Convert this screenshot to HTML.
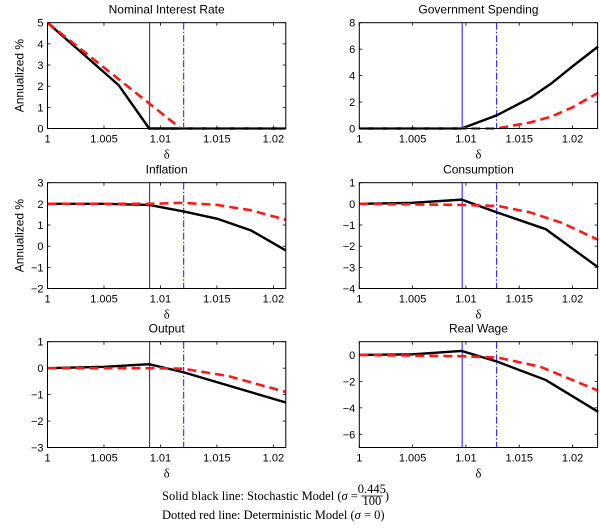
<!DOCTYPE html>
<html><head><meta charset="utf-8"><style>
body{margin:0;background:#fff;width:600px;height:529px;overflow:hidden}
svg{display:block}
.t{font-family:"Liberation Sans",sans-serif;font-size:11px;fill:#000}
.ti{font-family:"Liberation Sans",sans-serif;font-size:12px;fill:#000}
.s{font-family:"Liberation Serif",serif;font-size:12.5px;fill:#000}
</style></head><body>
<svg id="c" width="600" height="529" xmlns="http://www.w3.org/2000/svg">
<text id="cap1" class="s" x="162" y="500">Solid black line: Stochastic Model (<tspan font-style="italic">σ</tspan> =</text>
<text class="s" x="162" y="519">Dotted red line: Deterministic Model (<tspan font-style="italic">σ</tspan> = 0)</text>
</svg>
<script>
const xTicks=[1,1.005,1.01,1.015,1.02];
const xTickLabels=["1","1.005","1.01","1.015","1.02"];
const titles=["Nominal Interest Rate","Government Spending","Inflation","Consumption","Output","Real Wage"];
const yTicks=[[0,1,2,3,4,5],[0,2,4,6,8],[-2,-1,0,1,2,3],[-4,-3,-2,-1,0,1],[-3,-2,-1,0,1],[-6,-4,-2,0]];
const yRanges=[[0,5],[0,8],[-2,3],[-4,1],[-3,1],[-7,1]];
const blackX=[[1,1.0063,1.009,1.0211],[1,1.0096,1.0129,1.016,1.018,1.02,1.0224],[1,1.005,1.009,1.012,1.015,1.018,1.0211],[1,1.005,1.0096,1.0129,1.0175,1.0224],[1,1.005,1.009,1.012,1.0211],[1,1.005,1.0096,1.0129,1.0175,1.0224]];
const blackY=[[5,2.05,0,0],[0,0,1.0,2.3,3.4,4.7,6.2],[2,2,1.95,1.65,1.3,0.75,-0.2],[0,0.05,0.2,-0.4,-1.2,-3.0],[0,0.05,0.15,-0.15,-1.3],[0,0.05,0.3,-0.5,-1.9,-4.3]];
const redX=[[1,1.0118,1.0211],[1,1.0129,1.016,1.018,1.02,1.0224],[1,1.009,1.012,1.015,1.018,1.0211],[1,1.0096,1.013,1.016,1.019,1.0224],[1,1.009,1.012,1.016,1.0211],[1,1.0096,1.013,1.017,1.0224]];
const redY=[[5,0,0],[0,0,0.45,0.9,1.6,2.7],[2,2,2.05,1.95,1.7,1.25],[0,-0.05,-0.1,-0.4,-0.9,-1.7],[0,0,-0.02,-0.3,-0.9],[0,-0.1,-0.2,-0.9,-2.7]];
const vSolid=[1.00904,1.00965];
const vDash=[1.01206,1.01288];
const xMax=[1.0211,1.02235];
const NS="http://www.w3.org/2000/svg";
const svg=document.getElementById('c');
function mk(tag,attrs,parent){const e=document.createElementNS(NS,tag);for(const k in attrs)e.setAttribute(k,attrs[k]);(parent||svg).appendChild(e);return e;}
const panelTops=[22.7,182.7,341.7];
const panelH=105.8;
const lefts=[47.5,359.3];
const W=238.3;
const slugs=["nominal-interest-rate","government-spending","inflation","consumption","output","real-wage"];
for(let i=0;i<6;i++){
  const col=i%2,row=Math.floor(i/2);
  const L=lefts[col],T=panelTops[row],B=T+panelH,R=L+W;
  const xs=v=>L+(v-1)/(xMax[col]-1)*W;
  const ys=v=>B-(v-yRanges[i][0])/(yRanges[i][1]-yRanges[i][0])*panelH;
  const g=mk('g',{});
  
  
  const tt=mk('text',{x:(L+R)/2,y:T-9,'text-anchor':'middle',class:'ti'},g);tt.textContent=titles[i];
  
  
  xTicks.forEach((v,k)=>{
    const x=xs(v);
    mk('line',{x1:x,x2:x,y1:B,y2:B-3,stroke:'#000','stroke-width':0.8},g);
    mk('line',{x1:x,x2:x,y1:T,y2:T+3,stroke:'#000','stroke-width':0.8},g);
    const t=mk('text',{x:x,y:B+14,'text-anchor':'middle',class:'t'},g);t.textContent=xTickLabels[k];
    
    
  });
  yTicks[i].forEach(v=>{
    const y=ys(v);
    mk('line',{x1:L,x2:L+3,y1:y,y2:y,stroke:'#000','stroke-width':0.8},g);
    mk('line',{x1:R,x2:R-3,y1:y,y2:y,stroke:'#000','stroke-width':0.8},g);
    const t=mk('text',{x:L-4,y:y+4,'text-anchor':'end',class:'t'},g);t.textContent=v<0?'\u2212'+(-v):String(v);
    
    
  });
  const xl=mk('text',{x:(L+R)/2,y:B+30,'text-anchor':'middle',class:'s'},g);xl.textContent='δ';
  
  
  if(col===0&&row<2){
    const yl=mk('text',{x:0,y:0,'text-anchor':'middle',class:'ti',transform:`translate(${L-24},${(T+B)/2}) rotate(-90)`},g);yl.textContent='Annualized %';
    
    
  }
  const vs=mk('line',{x1:xs(vSolid[col]),x2:xs(vSolid[col]),y1:T,y2:B,stroke:'#1515ff','stroke-width':1},g);
  
  
  const vd=mk('line',{x1:xs(vDash[col]),x2:xs(vDash[col]),y1:T,y2:B,stroke:'#1515ff','stroke-width':1,'stroke-dasharray':'7,2,1.5,2'},g);
  
  
  const bp=mk('polyline',{points:blackX[i].map((v,k)=>xs(v)+','+ys(blackY[i][k])).join(' '),fill:'none',stroke:'#000','stroke-width':2.4},g);
  
  
  const rp=mk('polyline',{points:redX[i].map((v,k)=>xs(v)+','+ys(redY[i][k])).join(' '),fill:'none',stroke:'#ff1a1a','stroke-width':2.6,'stroke-dasharray':'9,5'},g);
  
  
  const fr=mk('rect',{x:L,y:T,width:W,height:panelH,fill:'none',stroke:'#000','stroke-width':1},g);
  
  
}
// fraction in caption, placed right after the measured caption text
const capEnd=162+document.getElementById('cap1').getComputedTextLength();
const fx=capEnd+14;
const f1=mk('text',{x:fx,y:493,'text-anchor':'middle',class:'s','font-size':'9px'});f1.textContent='0.445';


mk('line',{x1:fx-11,x2:fx+11,y1:496,y2:496,stroke:'#000','stroke-width':0.7});
const f2=mk('text',{x:fx,y:505,'text-anchor':'middle',class:'s','font-size':'9px'});f2.textContent='100';


const cp=mk('text',{x:fx+13,y:500,class:'s'});cp.textContent=')';


</script>
</body></html>
